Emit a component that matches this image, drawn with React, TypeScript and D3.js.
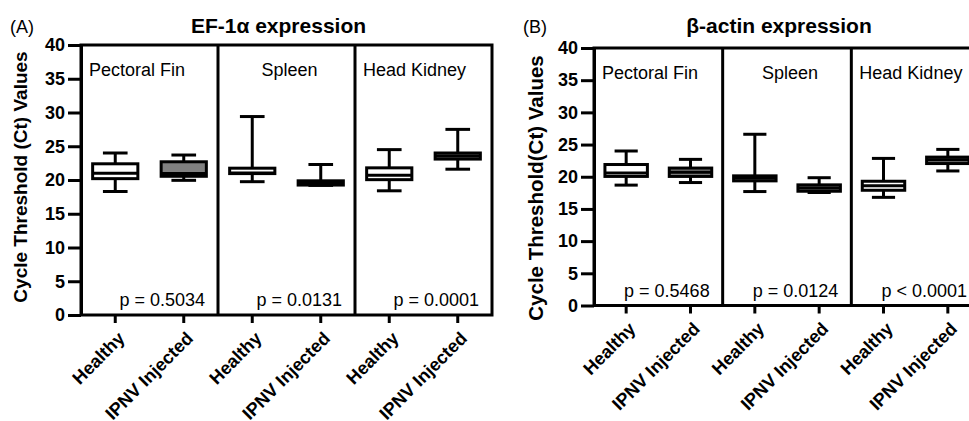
import React, { useEffect, useRef } from "react";
import * as d3 from "d3";

// tissues and groups
const tissues = ["Pectoral Fin", "Spleen", "Head Kidney"];
const groups = ["Healthy", "IPNV Injected"];
const yTicks = [0, 5, 10, 15, 20, 25, 30, 35, 40];

// EF-1a box stats, order: PF healthy, PF ipnv, Sp healthy, Sp ipnv, HK healthy, HK ipnv
const efMin = [18.3, 19.95, 19.75, 19.2, 18.4, 21.6];
const efQ1 = [20.2, 20.55, 20.95, 19.25, 20.05, 23.1];
const efMedian = [21.0, 20.95, 21.05, 19.55, 20.7, 23.55];
const efQ3 = [22.4, 22.7, 21.75, 19.88, 21.8, 24.0];
const efMax = [24.0, 23.7, 29.4, 22.3, 24.5, 27.5];
const efP = ["p = 0.5034", "p = 0.0131", "p = 0.0001"];

// beta-actin box stats
const acMin = [18.7, 19.1, 17.7, 17.55, 16.8, 20.9];
const acQ1 = [20.05, 20.05, 19.36, 17.75, 17.9, 22.05];
const acMedian = [20.6, 20.7, 19.75, 18.25, 18.6, 22.65];
const acQ3 = [21.9, 21.35, 20.14, 18.74, 19.3, 23.05];
const acMax = [24.0, 22.7, 26.6, 19.85, 22.85, 24.25];
const acP = ["p = 0.5468", "p = 0.0124", "p < 0.0001"];

const FONT = "'Liberation Sans', Arial, sans-serif";

type Panel = {
  tag: string;
  title: string;
  yLabel: string;
  yLabelSize: number;
  yLabelX: number;
  yLabelY: number;
  left: number;
  right: number;
  top: number;
  bottom: number;
  stats: number[][];
  pvals: string[];
};

function drawPanel(svg: any, p: Panel) {
  const idx = d3.range(6);
  const x = d3.scaleBand<number>().domain(idx).range([p.left, p.right]).padding(0);
  const y = d3.scaleLinear().domain([0, 40]).range([p.bottom, p.top]);
  const g = svg.append("g");
  const bw = x.bandwidth();

  // frame + dividers
  g.append("rect")
    .attr("x", p.left)
    .attr("y", y(40))
    .attr("width", p.right - p.left)
    .attr("height", y(0) - y(40))
    .attr("fill", "none")
    .attr("stroke", "#000")
    .attr("stroke-width", 3);
  [2, 4].forEach((i) => {
    g.append("line")
      .attr("x1", x(i)!)
      .attr("x2", x(i)!)
      .attr("y1", y(40))
      .attr("y2", y(0))
      .attr("stroke", "#000")
      .attr("stroke-width", 3);
  });

  // y axis
  const ya = g
    .append("g")
    .attr("transform", `translate(${p.left},0)`)
    .call(d3.axisLeft(y).tickValues(yTicks).tickSize(13).tickSizeOuter(0).tickPadding(3));
  ya.select(".domain").attr("stroke-width", 3);
  ya.selectAll(".tick line").attr("stroke-width", 3);
  ya.selectAll(".tick text")
    .attr("font-family", FONT)
    .attr("font-size", 18)
    .attr("font-weight", "bold")
    .attr("fill", "#000");

  // x axis
  const xa = g
    .append("g")
    .attr("transform", `translate(0,${p.bottom})`)
    .call(
      d3
        .axisBottom(x)
        .tickSize(8)
        .tickSizeOuter(0)
        .tickFormat((i: number) => groups[i % 2])
    );
  xa.select(".domain").remove();
  xa.selectAll(".tick line").attr("stroke-width", 3);
  xa.selectAll(".tick text")
    .attr("font-family", FONT)
    .attr("font-size", 18)
    .attr("font-weight", "bold")
    .attr("fill", "#000")
    .attr("text-anchor", "end")
    .attr("y", 0)
    .attr("dy", "0.35em")
    .attr("transform", "translate(6,20) rotate(-45)");

  // boxes
  const [mins, q1s, meds, q3s, maxs] = p.stats;
  const boxW = bw * 0.66;
  const capW = bw * 0.36;
  idx.forEach((i) => {
    const cx = x(i)! + bw / 2;
    const b = g.append("g").attr("stroke", "#000").attr("stroke-width", 3);
    b.append("line").attr("x1", cx).attr("x2", cx).attr("y1", y(maxs[i])).attr("y2", y(q3s[i]));
    b.append("line").attr("x1", cx).attr("x2", cx).attr("y1", y(q1s[i])).attr("y2", y(mins[i]));
    b.append("line").attr("x1", cx - capW / 2).attr("x2", cx + capW / 2).attr("y1", y(maxs[i])).attr("y2", y(maxs[i]));
    b.append("line").attr("x1", cx - capW / 2).attr("x2", cx + capW / 2).attr("y1", y(mins[i])).attr("y2", y(mins[i]));
    b.append("rect")
      .attr("x", cx - boxW / 2)
      .attr("y", y(q3s[i]))
      .attr("width", boxW)
      .attr("height", y(q1s[i]) - y(q3s[i]))
      .attr("fill", i % 2 === 0 ? "#fff" : "#808080");
    b.append("line").attr("x1", cx - boxW / 2).attr("x2", cx + boxW / 2).attr("y1", y(meds[i])).attr("y2", y(meds[i]));
  });

  // tissue labels and p-values
  tissues.forEach((t, k) => {
    const x0 = x(k * 2)!;
    const x1 = x0 + bw * 2;
    g.append("text")
      .attr("x", k === 1 ? (x0 + x1) / 2 + 3 : x0 + 8)
      .attr("y", y(40) + 31)
      .attr("text-anchor", k === 1 ? "middle" : "start")
      .attr("font-family", FONT)
      .attr("font-size", 18)
      .text(t);
    g.append("text")
      .attr("x", x1 - 13)
      .attr("y", y(0) - 9)
      .attr("text-anchor", "end")
      .attr("font-family", FONT)
      .attr("font-size", 18)
      .text(p.pvals[k]);
  });

  // titles
  g.append("text")
    .attr("x", (p.left + p.right) / 2 - 8)
    .attr("y", 33)
    .attr("text-anchor", "middle")
    .attr("font-family", FONT)
    .attr("font-size", 21)
    .attr("font-weight", "bold")
    .text(p.title);
  g.append("text")
    .attr("x", p.left - 71)
    .attr("y", 33)
    .attr("font-family", FONT)
    .attr("font-size", 18)
    .text(p.tag);
  g.append("text")
    .attr("transform", `translate(${p.yLabelX},${p.yLabelY}) rotate(-90)`)
    .attr("text-anchor", "middle")
    .attr("font-family", FONT)
    .attr("font-size", p.yLabelSize)
    .attr("font-weight", "bold")
    .text(p.yLabel);
}

export default function App() {
  const ref = useRef<SVGSVGElement>(null);

  useEffect(() => {
    const svg = d3.select(ref.current);
    svg.selectAll("*").remove();
    drawPanel(svg, {
      tag: "(A)",
      title: "EF-1\u03b1 expression",
      yLabel: "Cycle Threshold (Ct) Values",
      yLabelSize: 19,
      yLabelX: 27,
      yLabelY: 177,
      left: 81,
      right: 492,
      top: 45,
      bottom: 315,
      stats: [efMin, efQ1, efMedian, efQ3, efMax],
      pvals: efP,
    });
    drawPanel(svg, {
      tag: "(B)",
      title: "\u03b2-actin expression",
      yLabel: "Cycle Threshold(Ct) Values",
      yLabelSize: 20.5,
      yLabelX: 543,
      yLabelY: 188,
      left: 594,
      right: 980,
      top: 48,
      bottom: 305.5,
      stats: [acMin, acQ1, acMedian, acQ3, acMax],
      pvals: acP,
    });
  }, []);

  return (
    <svg
      ref={ref}
      width={969}
      height={421}
      style={{ position: "absolute", left: 0, top: 0, background: "#fff" }}
    />
  );
}
